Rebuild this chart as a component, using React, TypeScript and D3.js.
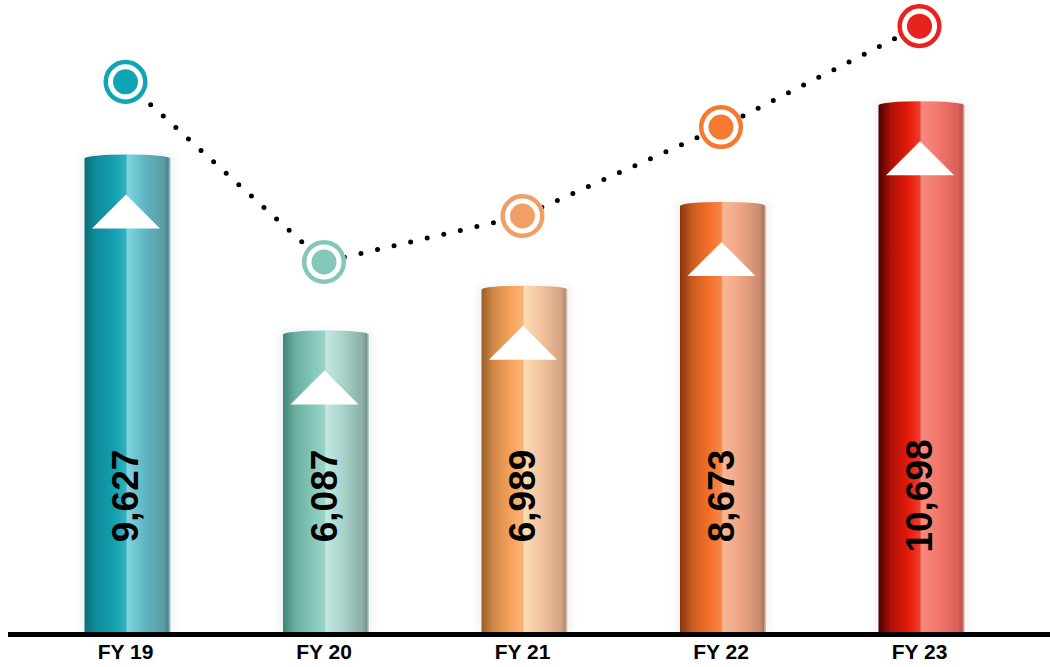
import React from "react";
import * as d3 from "d3";

// Fiscal years and their values
const categories = ["FY 19", "FY 20", "FY 21", "FY 22", "FY 23"];
const barValues = [9627, 6087, 6989, 8673, 10698];
// trend markers drawn above the bars (same value axis)
const markerValues = [11090, 7465, 8390, 10180, 12210];
const valueLabels = ["9,627", "6,087", "6,989", "8,673", "10,698"];

// cylinder shading per bar: dark edge, body, highlight, light side, right edge
const barPalettes = [
  ["#0a6f7c", "#13a0b0", "#7fd4df", "#5fb5c1", "#5a9aa2"],
  ["#3f8577", "#86c9bb", "#c2e8e1", "#a7d3cb", "#8aaca6"],
  ["#9a5f28", "#f7a45c", "#fbdcb5", "#f2c29d", "#d3a283"],
  ["#8a3510", "#f5722a", "#f8b898", "#f0a584", "#c98b70"],
  ["#4a0000", "#e81a0a", "#f88a7e", "#f2766b", "#d86056"],
];
const markerColors = ["#10a5b5", "#84c6b8", "#f0a066", "#f47a30", "#e8231f"];

const W = 1050;
const H = 667;
const BASE = 633;
const BAR_W = 86;

export default function App() {
  const x = d3.scalePoint<string>().domain(categories).range([127.5, 921.5]);
  const y = d3.scaleLinear().domain([0, 12000]).range([BASE, BASE - 596.4]);

  const linePts: [number, number][] = categories.map((c, i) => [
    (x(c) as number) - 2,
    y(markerValues[i]),
  ]);
  const line = d3.line()(linePts) as string;

  return (
    <svg
      width={W}
      height={H}
      style={{ position: "absolute", left: 0, top: 0, background: "#fff" }}
      fontFamily="'Liberation Sans', Arial, sans-serif"
    >
      <defs>
        {barPalettes.map((p, i) => (
          <linearGradient key={i} id={`bar-grad-${i}`} x1="0" x2="1" y1="0" y2="0">
            <stop offset="0%" stopColor={p[0]} />
            <stop offset="14%" stopColor={d3.interpolateRgb(p[0], p[1])(0.6)} />
            <stop offset="35%" stopColor={p[1]} />
            <stop offset="48%" stopColor={d3.interpolateRgb(p[1], p[2])(0.3)} />
            <stop offset="50%" stopColor={p[2]} />
            <stop offset="70%" stopColor={p[3]} />
            <stop offset="93%" stopColor={p[4]} />
            <stop offset="97%" stopColor={d3.interpolateRgb(p[4], "#000")(0.15)} />
            <stop offset="100%" stopColor={d3.interpolateRgb(p[4], "#fff")(0.5)} />
          </linearGradient>
        ))}
        <filter id="soft" x="-20%" y="-5%" width="140%" height="110%">
          <feGaussianBlur stdDeviation="4" />
        </filter>
      </defs>

      {/* bars */}
      {categories.map((c, i) => {
        const cx = x(c) as number;
        const x0 = cx - BAR_W / 2;
        const x1 = cx + BAR_W / 2;
        const top = y(barValues[i]);
        const r = 4;
        const path = `M${x0},${BASE} L${x0},${top + r} A${BAR_W / 2},${r} 0 0 1 ${x1},${top + r} L${x1},${BASE} Z`;
        const ax = cx - 1.5;
        const tri = `M${ax},${top + 40} L${ax + 34},${top + 74} L${ax - 34},${top + 74} Z`;
        return (
          <g key={c}>
            <rect
              x={x0 - 4}
              y={top}
              width={BAR_W + 8}
              height={BASE - top}
              fill="#000"
              opacity={0.05}
              filter="url(#soft)"
            />
            <path d={path} fill={`url(#bar-grad-${i})`} />
            <path d={tri} fill="#fff" />
            <text
              transform={`translate(${cx - 2},${496}) rotate(-90)`}
              textAnchor="middle"
              dominantBaseline="central"
              fontSize={37}
              fontWeight="bold"
              fill="#000"
            >
              {valueLabels[i]}
            </text>
          </g>
        );
      })}

      {/* dotted trend line */}
      <path
        d={line}
        fill="none"
        stroke="#000"
        strokeWidth={5}
        strokeLinecap="round"
        strokeDasharray="0 17"
      />

      {/* markers */}
      {linePts.map(([mx, my], i) => (
        <g key={i}>
          <circle cx={mx} cy={my} r={22} fill="#fff" />
          <circle cx={mx} cy={my} r={19.8} fill="none" stroke={markerColors[i]} strokeWidth={4.5} />
          <circle cx={mx} cy={my} r={12.5} fill={markerColors[i]} />
        </g>
      ))}

      {/* baseline */}
      <line x1={8} x2={W} y1={BASE + 1.5} y2={BASE + 1.5} stroke="#000" strokeWidth={5} />

      {/* category labels */}
      {categories.map((c) => (
        <text
          key={c}
          x={(x(c) as number) - 2}
          y={659}
          textAnchor="middle"
          fontSize={21}
          fontWeight="bold"
          fill="#000"
        >
          {c}
        </text>
      ))}
    </svg>
  );
}
